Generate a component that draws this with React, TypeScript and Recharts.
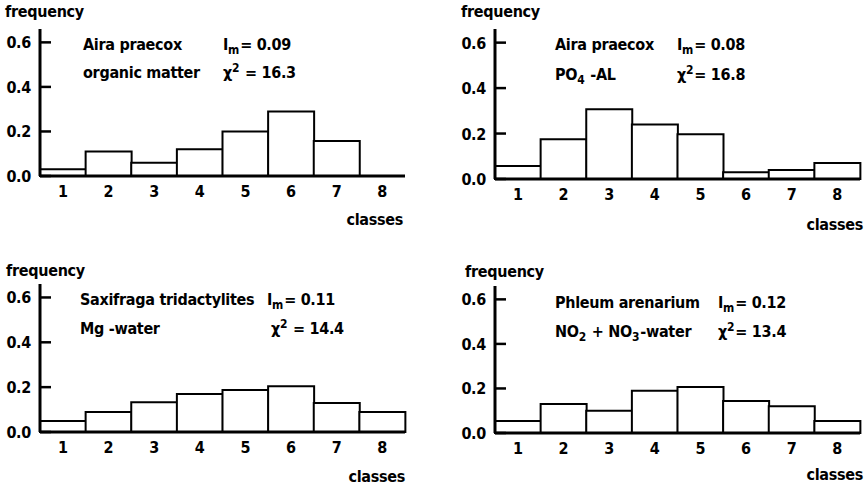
import React from 'react'
import { BarChart, Bar, XAxis, YAxis } from 'recharts'

// classes on the x axis
const classes = ['1', '2', '3', '4', '5', '6', '7', '8']

// frequency per class
const airaOrganic = [0.03, 0.11, 0.06, 0.12, 0.2, 0.29, 0.157, 0]
const airaPO4 = [0.057, 0.175, 0.307, 0.24, 0.197, 0.03, 0.04, 0.07]
const saxifragaMg = [0.049, 0.089, 0.133, 0.169, 0.187, 0.204, 0.129, 0.089]
const phleumNO = [0.054, 0.13, 0.1, 0.19, 0.207, 0.144, 0.12, 0.054]

const yTicks = [0, 0.2, 0.4, 0.6]

const FONT = '"DejaVu Sans Condensed", "DejaVu Sans", sans-serif'
const W = 433
const H = 240
const PLOT_W = 365
const Y_W = 36
const X_H = 30
const TICK = 11

const txt = {
  fontFamily: FONT,
  fontSize: 16,
  fontWeight: 'bold' as const,
  letterSpacing: -0.3,
  fill: '#000',
}

// tick marks point into the plot (negative size), so pull the label back left of the axis
const yTick = (props: any) => {
  const { x, y, payload } = props
  return (
    <text x={x - TICK - 9} y={y} dy={6} textAnchor="end" {...txt}>
      {Number(payload.value).toFixed(1)}
    </text>
  )
}

interface PanelProps {
  values: number[]
  left: number
  top: number
  axisX: number
  plotTop: number
  baseline: number
  children?: React.ReactNode
}

function Panel({ values, left, top, axisX, plotTop, baseline, children }: PanelProps) {
  const data = classes.map((c, i) => ({ cls: c, freq: values[i] }))
  return (
    <div style={{ position: 'absolute', left, top }}>
      <BarChart
        width={W}
        height={H}
        data={data}
        barCategoryGap={0}
        barGap={0}
        margin={{ top: plotTop, left: axisX - Y_W, right: W - axisX - PLOT_W, bottom: H - baseline - X_H }}
      >
        <XAxis
          dataKey="cls"
          height={X_H}
          interval={0}
          axisLine={{ stroke: '#000', strokeWidth: 3 }}
          tickLine={false}
          tickSize={0}
          tickMargin={10}
          tick={txt}
        />
        <YAxis
          width={Y_W}
          domain={[0, 0.66]}
          ticks={yTicks}
          interval={0}
          axisLine={{ stroke: '#000', strokeWidth: 3 }}
          tickLine={{ stroke: '#000', strokeWidth: 2.5 }}
          tickSize={-TICK}
          tickMargin={0}
          tick={yTick}
        />
        <Bar dataKey="freq" fill="#fff" stroke="#000" strokeWidth={2} isAnimationActive={false} />
        {children}
      </BarChart>
    </div>
  )
}

const sub = (s: string) => (
  <>
    <tspan dy={4} fontSize={12}>{s}</tspan>
    <tspan dy={-4}>{'\u200a'}</tspan>
  </>
)
const sup = (s: string) => (
  <>
    <tspan dy={-6} fontSize={12}>{s}</tspan>
    <tspan dy={6}>{'\u200a'}</tspan>
  </>
)

export default function App() {
  return (
    <div style={{ position: 'absolute', left: 0, top: 0, width: 866, height: 487, background: '#fff' }}>
      <Panel values={airaOrganic} left={0} top={0} axisX={40} plotTop={29} baseline={176}>
        <text x={5} y={17} {...txt}>frequency</text>
        <text x={83} y={50} {...txt}>Aira  praecox</text>
        <text x={223} y={50} {...txt}>I{sub('m')}= 0.09</text>
        <text x={83} y={78} {...txt}>organic  matter</text>
        <text x={223} y={78} {...txt}>χ{sup('2')} = 16.3</text>
        <text x={403} y={225} textAnchor="end" {...txt}>classes</text>
      </Panel>
      <Panel values={airaPO4} left={433} top={0} axisX={62} plotTop={29} baseline={179}>
        <text x={28} y={17} {...txt}>frequency</text>
        <text x={122} y={50} {...txt}>Aira  praecox</text>
        <text x={244} y={50} {...txt}>I{sub('m')}= 0.08</text>
        <text x={122} y={80} {...txt}>PO{sub('4')} -AL</text>
        <text x={244} y={80} {...txt}>χ{sup('2')}= 16.8</text>
        <text x={430} y={230} textAnchor="end" {...txt}>classes</text>
      </Panel>
      <Panel values={saxifragaMg} left={0} top={254} axisX={40} plotTop={30} baseline={178}>
        <text x={6} y={22} {...txt}>frequency</text>
        <text x={80} y={51} {...txt}>Saxifraga tridactylites</text>
        <text x={267} y={51} {...txt}>I{sub('m')}= 0.11</text>
        <text x={80} y={80} {...txt}>Mg -water</text>
        <text x={271} y={80} {...txt}>χ{sup('2')} = 14.4</text>
        <text x={405} y={228} textAnchor="end" {...txt}>classes</text>
      </Panel>
      <Panel values={phleumNO} left={433} top={254} axisX={62} plotTop={32} baseline={179}>
        <text x={32} y={23} {...txt}>frequency</text>
        <text x={122} y={54} {...txt}>Phleum  arenarium</text>
        <text x={285} y={54} {...txt}>I{sub('m')}= 0.12</text>
        <text x={122} y={83} {...txt}>NO{sub('2')} + NO{sub('3')}-water</text>
        <text x={285} y={83} {...txt}>χ{sup('2')}= 13.4</text>
        <text x={430} y={226} textAnchor="end" {...txt}>classes</text>
      </Panel>
    </div>
  )
}
